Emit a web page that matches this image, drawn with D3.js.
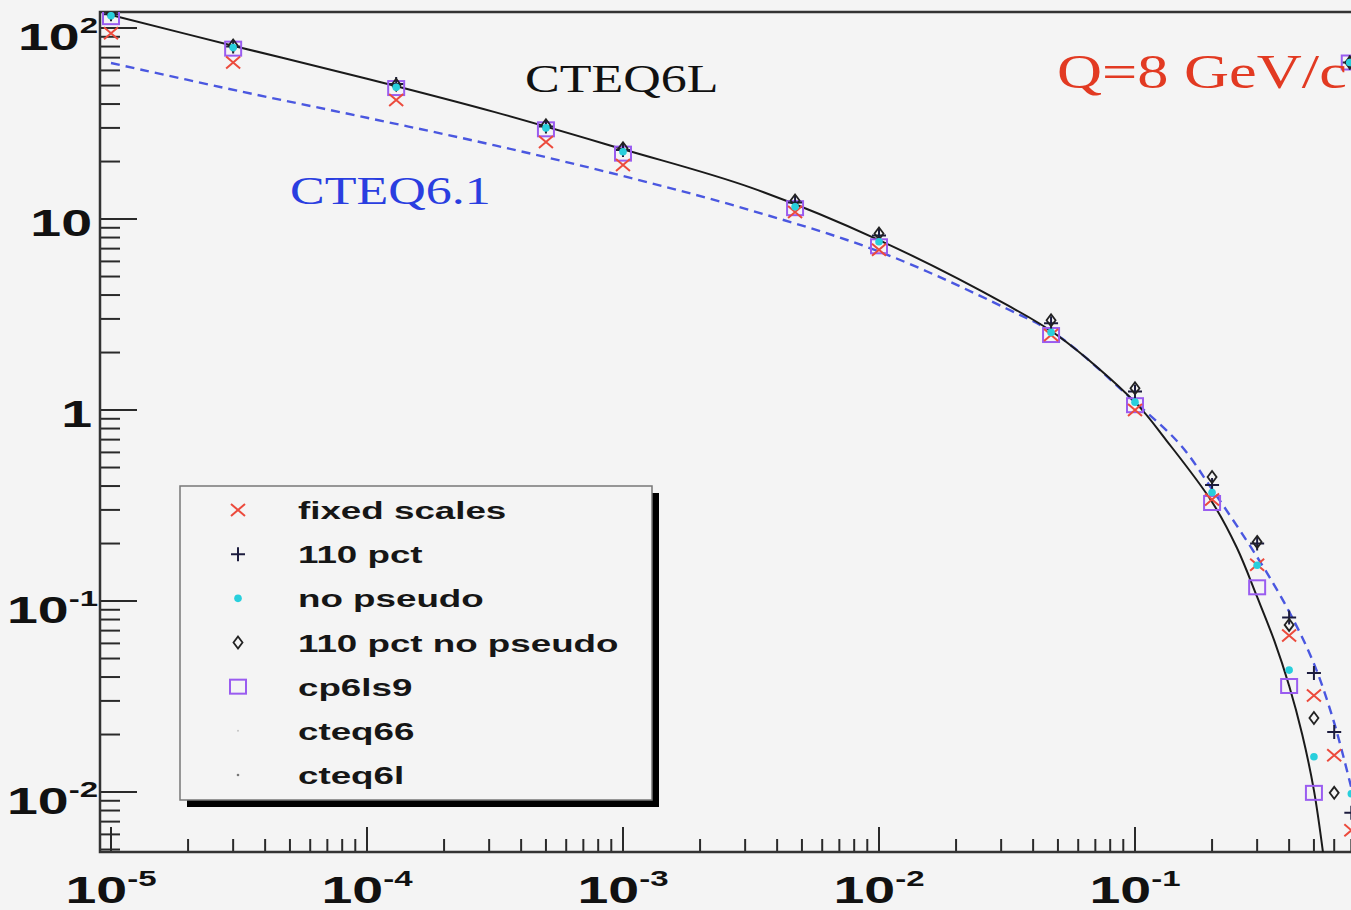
<!DOCTYPE html>
<html>
<head>
<meta charset="utf-8">
<script src="https://cdn.jsdelivr.net/npm/d3@7"></script>
<style>
  html, body { margin: 0; padding: 0; background: #f4f4f4; overflow: hidden; }
</style>
</head>
<body>
<svg id="chart" width="1351" height="910"></svg>
<script>
// ---- data -------------------------------------------------------------
// x values at which the fitted sets were evaluated
const xPoints = [1e-5, 3e-5, 1.3e-4, 5e-4, 1e-3, 4.7e-3, 1e-2, 4.7e-2, 0.1, 0.2, 0.3, 0.4, 0.5, 0.6, 0.7];

const fixedScales    = [94, 66, 42, 25.3, 19.2, 10.9, 6.9, 2.47, 1.0, 0.34, 0.155, 0.066, 0.032, 0.0156, 0.0063];
const pct110         = [118, 80, 51, 30.5, 23, 12.2, 8.2, 2.85, 1.25, 0.405, 0.2, 0.082, 0.042, 0.0206, 0.0078];
const noPseudo       = [116, 79, 49, 30, 22.5, 11.6, 7.6, 2.55, 1.1, 0.37, 0.154, 0.0435, 0.0153, null, 0.0098];
const pct110NoPseudo = [119, 81, 50.5, 31, 23.5, 12.5, 8.4, 2.95, 1.3, 0.446, 0.204, 0.075, 0.0244, 0.0099, null];
const cp6ls9         = [114, 78, 48.5, 29.5, 22, 11.4, 7.2, 2.47, 1.06, 0.326, 0.118, 0.0359, 0.0099, null, null];

// marker group sitting on the right border
const edgeX = [0.69];
const edgeY = [66];

// reference curves
const cteq6lX = [1e-5, 3.16e-5, 1e-4, 3.16e-4, 1e-3, 3.16e-3, 1e-2, 3.16e-2, 5e-2, 0.1, 0.133, 0.2, 0.25, 0.3, 0.35, 0.4, 0.45, 0.5, 0.545];
const cteq6lY = [117, 79.4, 54.3, 36.3, 23.2, 14.6, 7.76, 3.55, 2.45, 1.1, 0.69, 0.33, 0.19, 0.105, 0.062, 0.036, 0.02, 0.0102, 0.0046];

const cteq61X = [1e-5, 3.16e-5, 1e-4, 3.16e-4, 1e-3, 3.16e-3, 1e-2, 3.16e-2, 5e-2, 0.1, 0.15, 0.2, 0.3, 0.4, 0.5, 0.6, 0.7];
const cteq61Y = [65.6, 46.8, 33.9, 24.3, 16.8, 11.1, 6.76, 3.39, 2.45, 1.1, 0.66, 0.385, 0.17, 0.088, 0.047, 0.023, 0.0105];

// axis labels
const xTickValues = [1e-5, 1e-4, 1e-3, 1e-2, 1e-1];
const xTickBase   = ["10", "10", "10", "10", "10"];
const xTickSup    = ["-5", "-4", "-3", "-2", "-1"];
const yTickValues = [1e2, 1e1, 1, 1e-1, 1e-2];
const yTickBase   = ["10", "10", "1", "10", "10"];
const yTickSup    = ["2", "", "", "-1", "-2"];

// legend
const legendNames   = ["fixed scales", "110 pct", "no pseudo", "110 pct no pseudo", "cp6ls9", "cteq66", "cteq6l"];
const legendMarkers = ["cross", "plus", "dot", "diamond", "square", "tinyGray", "tinyDark"];

// ---- layout -----------------------------------------------------------
const svg = d3.select("#chart");
const frame = { left: 100, right: 1391, top: 12, bottom: 852 };
const SANS = "'Liberation Sans', Arial, Helvetica, sans-serif";
const SERIF = "'Liberation Serif', 'Times New Roman', serif";
const SANS_SX = 1.5, SERIF_SX = 1.3;

const x = d3.scaleLog().domain([Math.pow(10, -5.043), 1]).range([frame.left, frame.right]);
const y = d3.scaleLog().domain([Math.pow(10, -2.314), Math.pow(10, 2.084)]).range([frame.bottom, frame.top]);

svg.append("rect").attr("width", 1351).attr("height", 910).attr("fill", "#f4f4f4");

svg.append("defs").append("clipPath").attr("id", "plotClip")
  .append("rect")
  .attr("x", frame.left).attr("y", frame.top)
  .attr("width", frame.right - frame.left).attr("height", frame.bottom - frame.top);

// horizontally stretched text anchored at (px, py)
function stretchedText(parent, px, py, sx, anchor) {
  const g = parent.append("g").attr("transform", `translate(${px},${py}) scale(${sx},1)`);
  return g.append("text").attr("x", 0).attr("y", 0).attr("text-anchor", anchor || "start");
}

// ---- ticks --------------------------------------------------------------
function logTicks(scale) {
  const [lo, hi] = scale.domain();
  const out = [];
  for (let e = Math.floor(Math.log10(lo)); e <= Math.ceil(Math.log10(hi)); e++) {
    for (let k = 1; k < 10; k++) {
      const v = k * Math.pow(10, e);
      if (v >= lo && v <= hi) out.push({ v, major: k === 1 });
    }
  }
  return out;
}

const axes = svg.append("g").attr("stroke", "#2a2a2a").attr("stroke-width", 2);

axes.selectAll("line.xt").data(logTicks(x)).join("line")
  .attr("x1", d => x(d.v)).attr("x2", d => x(d.v))
  .attr("y1", frame.bottom).attr("y2", d => frame.bottom - (d.major ? 25 : 13));

axes.selectAll("line.yt").data(logTicks(y)).join("line")
  .attr("y1", d => y(d.v)).attr("y2", d => y(d.v))
  .attr("x1", frame.left).attr("x2", d => frame.left + (d.major ? 37 : 20));

// frame (left, bottom, top)
svg.append("path")
  .attr("d", `M${frame.right},${frame.top}H${frame.left}V${frame.bottom}H${frame.right}`)
  .attr("fill", "none").attr("stroke", "#333").attr("stroke-width", 2.5);

// tick labels
xTickValues.forEach((v, i) => {
  const t = stretchedText(svg, x(v), 903, SANS_SX, "middle")
    .attr("font-family", SANS).attr("font-weight", "bold").attr("font-size", 37).attr("fill", "#111");
  t.append("tspan").text(xTickBase[i]);
  t.append("tspan").attr("font-size", 22).attr("dy", -17).text(xTickSup[i]);
});

yTickValues.forEach((v, i) => {
  const hasSup = yTickSup[i] !== "";
  const t = stretchedText(svg, hasSup ? 98 : 92, y(v) + (hasSup ? 22 : 16.5), SANS_SX, "end")
    .attr("font-family", SANS).attr("font-weight", "bold").attr("font-size", 37).attr("fill", "#111");
  t.append("tspan").text(yTickBase[i]);
  if (hasSup) t.append("tspan").attr("font-size", 22).attr("dy", -17).text(yTickSup[i]);
});

// ---- curves -------------------------------------------------------------
const plotG = svg.append("g").attr("clip-path", "url(#plotClip)");

const line = d3.line().x(d => x(d[0])).y(d => y(d[1])).curve(d3.curveCatmullRom.alpha(0.5));

plotG.append("path")
  .datum(d3.zip(cteq61X, cteq61Y))
  .attr("d", line)
  .attr("fill", "none").attr("stroke", "#4a57e0").attr("stroke-width", 2.4)
  .attr("stroke-dasharray", "9,6");

plotG.append("path")
  .datum(d3.zip(cteq6lX, cteq6lY))
  .attr("d", line)
  .attr("fill", "none").attr("stroke", "#1a1a1a").attr("stroke-width", 2);

// ---- markers ------------------------------------------------------------
function drawMarker(g, type, cx, cy) {
  switch (type) {
    case "cross":
      g.append("path").attr("d", `M${cx-7},${cy-6}L${cx+7},${cy+6}M${cx-7},${cy+6}L${cx+7},${cy-6}`)
        .attr("stroke", "#ec4a3c").attr("stroke-width", 2).attr("fill", "none");
      break;
    case "plus":
      g.append("path").attr("d", `M${cx-7},${cy}H${cx+7}M${cx},${cy-7}V${cy+7}`)
        .attr("stroke", "#1c1c3e").attr("stroke-width", 2).attr("fill", "none");
      break;
    case "dot":
      g.append("circle").attr("cx", cx).attr("cy", cy).attr("r", 3.8).attr("fill", "#28cfdc");
      break;
    case "diamond":
      g.append("path").attr("d", `M${cx},${cy-6}L${cx+4.5},${cy}L${cx},${cy+6}L${cx-4.5},${cy}Z`)
        .attr("stroke", "#222").attr("stroke-width", 1.8).attr("fill", "none");
      break;
    case "square":
      g.append("rect").attr("x", cx - 8).attr("y", cy - 7).attr("width", 16).attr("height", 14)
        .attr("stroke", "#9a5cf0").attr("stroke-width", 2).attr("fill", "none");
      break;
    case "tinyGray":
      g.append("circle").attr("cx", cx).attr("cy", cy).attr("r", 1).attr("fill", "#c4c4c4");
      break;
    case "tinyDark":
      g.append("circle").attr("cx", cx).attr("cy", cy).attr("r", 1.3).attr("fill", "#777");
      break;
  }
}

const markerG = svg.append("g").attr("clip-path", "url(#plotClip)");
const seriesOrder = [
  [cp6ls9, "square"],
  [fixedScales, "cross"],
  [pct110, "plus"],
  [pct110NoPseudo, "diamond"],
  [noPseudo, "dot"]
];
seriesOrder.forEach(([vals, type]) => {
  xPoints.forEach((xv, i) => {
    const v = vals[i];
    if (v == null) return;
    drawMarker(markerG, type, x(xv), y(v));
  });
});
["square", "plus", "diamond", "dot"].forEach(type => {
  edgeX.forEach((xv, i) => drawMarker(markerG, type, x(xv), y(edgeY[i])));
});

// ---- annotations ----------------------------------------------------------
stretchedText(svg, 525, 92, SERIF_SX).attr("font-family", SERIF).attr("font-size", 40)
  .attr("fill", "#111").text("CTEQ6L");
stretchedText(svg, 290, 204, SERIF_SX).attr("font-family", SERIF).attr("font-size", 40)
  .attr("fill", "#2a3ee0").text("CTEQ6.1");
stretchedText(svg, 1057, 88, SERIF_SX).attr("font-family", SERIF).attr("font-size", 48)
  .attr("fill", "#e23a22").text("Q=8 GeV/c");

// ---- legend -----------------------------------------------------------------
const leg = { x: 180, y: 486, w: 472, h: 314, shadow: 7 };
const legG = svg.append("g");
legG.append("rect").attr("x", leg.x + leg.shadow).attr("y", leg.y + leg.shadow)
  .attr("width", leg.w).attr("height", leg.h).attr("fill", "#000");
legG.append("rect").attr("x", leg.x).attr("y", leg.y).attr("width", leg.w).attr("height", leg.h)
  .attr("fill", "#f4f4f4").attr("stroke", "#777").attr("stroke-width", 1.5);

const rowCenters = d3.scaleLinear().domain([0, legendNames.length - 1]).range([510, 775]);
legendNames.forEach((name, i) => {
  const cy = rowCenters(i);
  drawMarker(legG, legendMarkers[i], 238, cy);
  stretchedText(legG, 298, cy + 9, SANS_SX)
    .attr("font-family", SANS).attr("font-weight", "bold").attr("font-size", 24.5)
    .attr("fill", "#161616").text(name);
});
</script>
</body>
</html>
